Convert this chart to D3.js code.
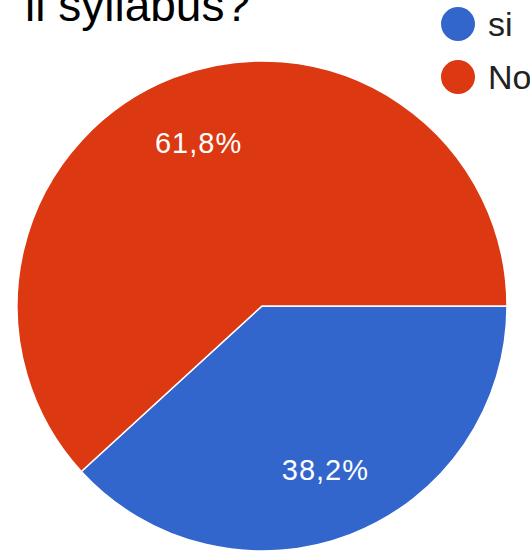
<!DOCTYPE html>
<meta charset="utf-8">
<style>
body { margin: 0; background: #fff; }
text { font-family: "Liberation Sans", Arial, sans-serif; }
</style>
<body>
<script src="https://d3js.org/d3.v7.min.js"></script>
<script>

var labels = ["si", "No"];
var values = [38.2, 61.8];
var colors = ["#3366cc", "#dc3912"];

var width = 530,
    height = 552,
    radius = 245,
    cx = 262,
    cy = 306;

var svg = d3.select("body").append("svg")
    .attr("width", width)
    .attr("height", height);

// title, cut at the top like the screenshot
svg.append("text")
    .attr("x", 25)
    .attr("y", 21)
    .attr("font-size", 46)
    .attr("fill", "#000")
    .text("il syllabus?");

var pie = d3.pie()
    .sort(null)
    .startAngle(Math.PI / 2)
    .endAngle(Math.PI / 2 + 2 * Math.PI)
    .value(function(d) { return d; });

var arc = d3.arc()
    .innerRadius(0)
    .outerRadius(radius);

var labelArc = d3.arc()
    .innerRadius(175)
    .outerRadius(175);

var g = svg.append("g")
    .attr("transform", "translate(" + cx + "," + cy + ")");

var slices = g.selectAll(".slice")
    .data(pie(values))
    .enter().append("g")
    .attr("class", "slice");

slices.append("path")
    .attr("d", arc)
    .attr("fill", function(d, i) { return colors[i]; })
    .attr("stroke", "#fff")
    .attr("stroke-width", 1.5);

slices.append("text")
    .attr("transform", function(d) { return "translate(" + labelArc.centroid(d) + ")"; })
    .attr("dy", "0.36em")
    .attr("text-anchor", "middle")
    .attr("font-size", 29)
    .attr("letter-spacing", 1)
    .attr("fill", "#fff")
    .text(function(d) { return d.value.toFixed(1).replace(".", ",") + "%"; });

// legend
var legend = svg.selectAll(".legend")
    .data(labels)
    .enter().append("g")
    .attr("class", "legend")
    .attr("transform", function(d, i) { return "translate(458," + (24 + i * 53) + ")"; });

legend.append("circle")
    .attr("r", 17)
    .attr("fill", function(d, i) { return colors[i]; });

legend.append("text")
    .attr("x", 30)
    .attr("dy", "0.36em")
    .attr("font-size", 34)
    .attr("fill", "#222")
    .text(function(d) { return d; });

</script>
</body>
